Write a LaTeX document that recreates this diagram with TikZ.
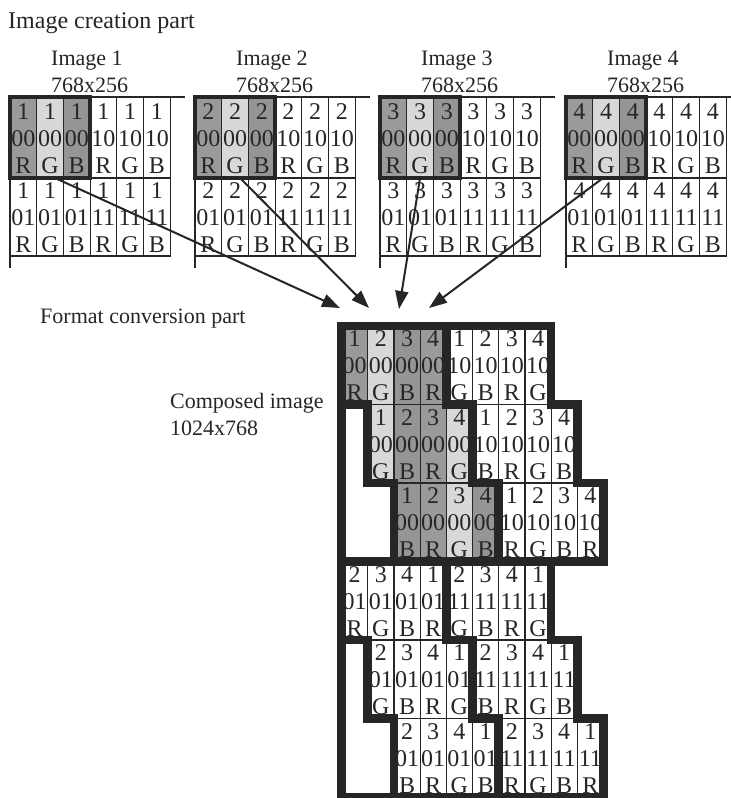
\documentclass[tikz,border=0pt]{standalone}
\usepackage{fontspec}
\setmainfont{Liberation Serif}
\usetikzlibrary{arrows.meta}
\definecolor{ink}{HTML}{262626}
\definecolor{chanR}{HTML}{9A9A9A}
\definecolor{chanG}{HTML}{D8D8D8}
\definecolor{chanB}{HTML}{959595}
\tikzset{
  celltext/.style={inner sep=0pt, align=center, text=ink,
    font=\fontsize{24}{27}\selectfont},
  caption/.style={inner sep=0pt, anchor=base west, text=ink,
    font=\fontsize{22}{27}\selectfont},
  gridline/.style={draw=ink, line width=1.2pt},
  heavy/.style={draw=ink, line width=8.5pt, line join=miter},
  framebox/.style={draw=ink, line width=4pt, inner sep=0pt, outer sep=0pt,
    anchor=north west, minimum width=80.1pt, minimum height=81pt},
  feed/.style={draw=ink, line width=2pt, -{Triangle[length=18pt,width=13pt]}},
}
\begin{document}
\begin{tikzpicture}[x=1pt, y=-1pt]
\fill[white] (0,0) rectangle (731,798);
\useasboundingbox (0,0) rectangle (731,798);

\node[caption, font=\fontsize{24}{28}\selectfont] (title-top) at (8,28) {Image creation part};

% the four source images, two rows of six sub-pixel cells each
\foreach \k/\xo in {1/10, 2/195, 3/380, 4/566}{
  \node[caption] (name-\k) at (\xo+41,65) {Image \k};
  \node[caption] (size-\k) at (\xo+41,92) {768x256};
  \foreach \rw/\yt/\yb/\yc in {0/97/178/138.5, 1/178/256/218}{
    \foreach \c/\ch/\hi in {0/0/0, 1/1/0, 2/2/0, 3/0/1, 4/1/1, 5/2/1}{
      \edef\fillc{white}
      \ifnum\rw=0 \ifnum\c<3 \edef\fillc{\ifcase\ch chanR\or chanG\or chanB\fi}\fi\fi
      \path[gridline, fill=\fillc] (\xo+26.7*\c,\yt) rectangle (\xo+26.7*\c+26.7,\yb);
      \node[celltext] (src-\k-\rw-\c) at (\xo+26.7*\c+13.35,\yc)
        {\k\\\hi\rw\\\ifcase\ch R\or G\or B\fi};
    }
  }
  \draw[gridline] (\xo,97) -- (\xo+175,97);
  \draw[gridline] (\xo,97) -- (\xo,268);
  \node[framebox] (frame-\k) at (\xo,97) {};
}

\node[caption] (title-conv) at (40,323) {Format conversion part};
\node[caption] (mix-name) at (170,408) {Composed image};
\node[caption] (mix-size) at (170,435) {1024x768};

% composed image: six staggered rows of eight cells
\foreach \g in {0,1}{
 \foreach \r in {0,1,2}{
  \foreach \j in {0,...,7}{
    \pgfmathtruncatemacro\row{3*\g+\r}
    \pgfmathtruncatemacro\ch{mod(\r+\j,3)}
    \pgfmathtruncatemacro\num{\g==0 ? mod(\j,4)+1 : mod(\j+1,4)+1}
    \pgfmathtruncatemacro\hi{\j<4 ? 0 : 1}
    \pgfmathsetmacro\xl{341.5+26.2*(\r+\j)}
    \pgfmathsetmacro\yt{326+78.5*\row}
    \edef\fillc{white}
    \ifnum\g=0 \ifnum\j<4 \edef\fillc{\ifcase\ch chanR\or chanG\or chanB\fi}\fi\fi
    \path[gridline, fill=\fillc] (\xl,\yt) rectangle (\xl+26.2,\yt+78.5);
    \node[celltext] (mix-\row-\j) at (\xl+13.1,\yt+40)
      {\num\\\hi\g\\\ifcase\ch R\or G\or B\fi};
  }}}

% heavy staircase outlines of the two row groups
\foreach \ya/\yb/\yc/\yd in {326/404.5/483/561.5, 561.5/640/718.5/797}{
  \draw[heavy] (341.5,\ya) -- (551.1,\ya) -- (551.1,\yb) -- (577.3,\yb)
    -- (577.3,\yc) -- (603.5,\yc) -- (603.5,\yd) -- (341.5,\yd) -- cycle;
  \draw[heavy] (341.5,\yb) -- (367.7,\yb) -- (367.7,\yc) -- (393.9,\yc) -- (393.9,\yd);
  \draw[heavy] (446.3,\ya) -- (446.3,\yb) -- (472.5,\yb) -- (472.5,\yc)
    -- (498.7,\yc) -- (498.7,\yd);
}

% feeds from each source image into the composed image
\coordinate (tip-1) at (340,308);
\coordinate (tip-2) at (369,308);
\coordinate (tip-3) at (399,309);
\coordinate (tip-4) at (429,308);
\draw[feed] ([xshift=5pt]frame-1.south) -- (tip-1);
\draw[feed] ([xshift=5pt]frame-2.south) -- (tip-2);
\draw[feed] (frame-3.south) -- (tip-3);
\draw[feed] ([xshift=-3pt]frame-4.south) -- (tip-4);
\end{tikzpicture}
\end{document}
